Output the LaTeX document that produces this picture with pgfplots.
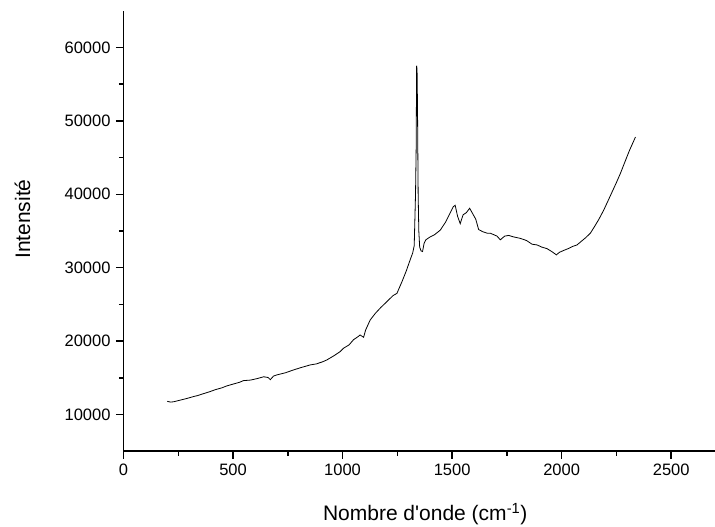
\documentclass[border=0pt]{standalone}
\usepackage{fontspec}
\setmainfont{Liberation Sans}
\newfontfamily\plainfont{Liberation Sans}
\usepackage{pgfplots}
\pgfplotsset{compat=1.18}
\usetikzlibrary{calc}
\begin{document}
\begin{tikzpicture}
\begin{axis}[
  name=ax,
  at={(0,0)}, anchor=south west,
  scale only axis,
  width=591.5pt, height=440.6pt,
  xmin=0, xmax=2700, ymin=5000, ymax=65000,
  axis lines*=left,
  axis line style={line width=1.6pt},
  xtick={0,500,...,2500},
  ytick={10000,20000,...,60000},
  minor x tick num=1, minor y tick num=1,
  xtick pos=bottom, ytick pos=left,
  tick align=outside,
  major tick length=7.5pt, minor tick length=4.5pt,
  every tick/.style={line width=1.4pt, black},
  scaled ticks=false,
  /pgf/number format/.cd, set thousands separator={}, assume math mode=true,
  /pgfplots/.cd,
  tick label style={font=\fontsize{16.5}{19}\selectfont},
  xticklabel style={yshift=-2pt},
  yticklabel style={xshift=-2pt},
  xlabel={Nombre d'onde (cm\textsuperscript{-1})},
  ylabel={Intensité},
  every axis x label/.style={at={(axis description cs:0.51,0)}, anchor=center, yshift=-63pt, font=\plainfont\fontsize{21}{25}\selectfont},
  every axis y label/.style={at={(axis description cs:0,0.527)}, anchor=center, rotate=90, yshift=101pt, font=\plainfont\fontsize{21}{25}\selectfont},
]
\addplot[black, line width=0.8pt] table {
x y
200 11800
215 11700
230 11750
250 11900
270 12050
290 12200
319 12450
340 12600
360 12800
395 13130
420 13400
450 13650
471 13900
500 14150
530 14400
547 14620
580 14700
610 14900
640 15150
660 15050
670 14750
685 15250
700 15400
740 15700
776 16080
810 16400
852 16760
880 16900
910 17200
928 17440
960 18000
990 18600
1004 19030
1030 19500
1050 20200
1070 20600
1080 20840
1096 20520
1105 21500
1126 22880
1150 23800
1175 24600
1202 25370
1230 26200
1248 26500
1271 28090
1290 29500
1310 31200
1320 32000
1327 33000
1333 40000
1336 46400
1338 57500
1340 57000
1342 52000
1345 40000
1348 35000
1352 32800
1358 32300
1365 32200
1372 33300
1380 33800
1400 34200
1420 34500
1446 35120
1470 36200
1490 37400
1505 38300
1514 38500
1525 37000
1537 36000
1550 37200
1565 37500
1580 38100
1595 37300
1608 36600
1621 35200
1640 34900
1660 34700
1674 34700
1690 34500
1705 34300
1720 33800
1740 34300
1758 34400
1780 34200
1811 34000
1840 33700
1865 33200
1888 33100
1910 32800
1933 32600
1955 32200
1976 31750
1990 32100
2009 32350
2030 32600
2050 32900
2070 33100
2090 33600
2110 34100
2131 34700
2150 35600
2170 36600
2192 37840
2210 39000
2230 40300
2250 41600
2268 42830
2290 44500
2310 46000
2325 47000
2337 47800
};
\end{axis}
\pgfresetboundingbox
\path ($(ax.south west)+(-123.5pt,-75.7pt)$) rectangle ($(ax.north east)+(0pt,10.7pt)$);
\end{tikzpicture}
\end{document}
